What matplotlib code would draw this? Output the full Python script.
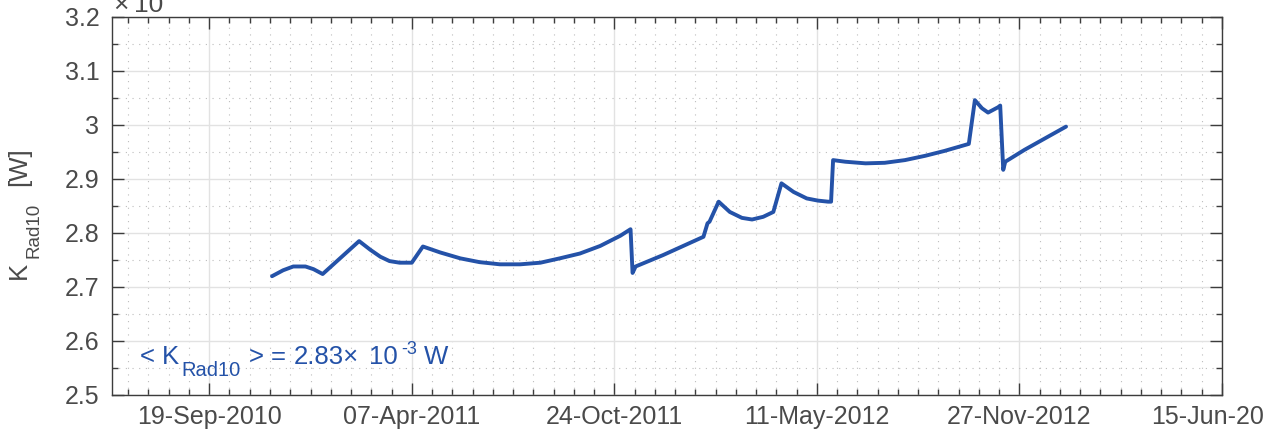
import matplotlib
matplotlib.use('Agg')
import matplotlib.pyplot as plt
import matplotlib.dates as mdates
import matplotlib.transforms as mtransforms
from matplotlib.ticker import MultipleLocator, FixedLocator
import pandas as pd

# ---- data (values in units of 1e-3 W) ----
dates = [
    '2010-11-20', '2010-12-01', '2010-12-11', '2010-12-23', '2010-12-31',
    '2011-01-09', '2011-02-14', '2011-02-25', '2011-03-07', '2011-03-16',
    '2011-03-26', '2011-04-07', '2011-04-18', '2011-05-05', '2011-05-25',
    '2011-06-13', '2011-07-03', '2011-07-23', '2011-08-12', '2011-08-31',
    '2011-09-20', '2011-10-10', '2011-10-30', '2011-11-09', '2011-11-11',
    '2011-11-14', '2011-12-11', '2011-12-31', '2012-01-20', '2012-01-24',
    '2012-01-26', '2012-02-04', '2012-02-15', '2012-02-27', '2012-03-08',
    '2012-03-19', '2012-03-29', '2012-04-06', '2012-04-18', '2012-05-01',
    '2012-05-12', '2012-05-22', '2012-05-25', '2012-05-27', '2012-06-08',
    '2012-06-28', '2012-07-17', '2012-08-06', '2012-08-26', '2012-09-14',
    '2012-10-08', '2012-10-14', '2012-10-21', '2012-10-27', '2012-11-06',
    '2012-11-08', '2012-11-11', '2012-11-13', '2012-12-02', '2012-12-22',
    '2013-01-12',
]
k_rad10 = [
    2.720, 2.731, 2.738, 2.738, 2.733,
    2.724, 2.785, 2.769, 2.756, 2.748,
    2.745, 2.745, 2.775, 2.764, 2.753,
    2.746, 2.742, 2.742, 2.745, 2.753,
    2.762, 2.776, 2.795, 2.807, 2.726,
    2.738, 2.759, 2.776, 2.793, 2.818,
    2.821, 2.858, 2.839, 2.828, 2.825,
    2.830, 2.839, 2.892, 2.876, 2.864,
    2.860, 2.858, 2.858, 2.935, 2.932,
    2.929, 2.930, 2.935, 2.943, 2.952,
    2.965, 3.046, 3.031, 3.023, 3.033,
    3.036, 2.917, 2.932, 2.954, 2.975,
    2.997,
]
mean_k = 2.83
x_major_ticks = ['2010-09-19', '2011-04-07', '2011-10-24',
                 '2012-05-11', '2012-11-27', '2013-06-15']
y_ticks = [2.5, 2.6, 2.7, 2.8, 2.9, 3.0, 3.1, 3.2]
y_tick_labels = ['2.5', '2.6', '2.7', '2.8', '2.9', '3', '3.1', '3.2']
x_limits = ['2010-06-15', '2013-06-15']

# ---- style ----
plt.rcParams['font.family'] = ['Liberation Sans', 'DejaVu Sans']

line_color = '#2452A8'
text_color = '#4a4a4a'
axis_color = '#3c3c3c'

W, H = 1264, 438
fig = plt.figure(figsize=(W / 100, H / 100), dpi=100)
ax = fig.add_axes([112 / W, 1 - 395 / H, 1110 / W, 378 / H])

x = pd.to_datetime(dates)
ax.plot(x, k_rad10, color=line_color, lw=2.8, solid_joinstyle='round',
        solid_capstyle='round', zorder=3)

ax.set_xlim(pd.to_datetime(x_limits[0]), pd.to_datetime(x_limits[1]))
ax.set_ylim(2.5, 3.2)

ax.xaxis.set_major_locator(FixedLocator(mdates.date2num(pd.to_datetime(x_major_ticks))))
ax.xaxis.set_major_formatter(mdates.DateFormatter('%d-%b-%Y'))
minor_x = pd.date_range('2010-07-01', '2013-06-15', freq='20D')
ax.xaxis.set_minor_locator(FixedLocator(mdates.date2num(minor_x)))

ax.set_yticks(y_ticks)
ax.set_yticklabels(y_tick_labels)
ax.yaxis.set_minor_locator(MultipleLocator(0.05))

ax.tick_params(which='both', direction='in', top=True, right=True,
               color=axis_color, width=1.0, labelcolor=text_color,
               labelsize=18)
ax.tick_params(which='major', length=8.5)
ax.tick_params(which='minor', length=4.3)
ax.tick_params(axis='x', pad=7)
ax.tick_params(axis='y', pad=9)

for s in ax.spines.values():
    s.set_color(axis_color)
    s.set_linewidth(1.0)

ax.set_axisbelow(True)
ax.grid(which='major', color='#e2e2e2', lw=1.0, ls='-')
ax.grid(which='minor', color='#bdbdbd', lw=0.8, ls=(0, (1, 5)))

pix = mtransforms.IdentityTransform()


def put(xp, ytop, s, size, color, rot=0):
    """Place text with its left-baseline anchor at pixel (xp, ytop from top)."""
    fig.text(xp, H - ytop, s, transform=pix, fontsize=size, color=color,
             ha='left', va='baseline', rotation=rot, rotation_mode='anchor')


# y-axis label  K_Rad10 [W]  (rotated, reading upward)
put(26, 279, 'K', 18.5, text_color, rot=90)
put(39, 258, 'Rad10', 13.5, text_color, rot=90)
put(26, 186, '[W]', 18.5, text_color, rot=90)

# exponent marker at the top left (cut by the top edge as in the reference)
put(113, 12, '\u00d7', 19, text_color)
put(134, 12, '10', 19, text_color)
put(163, 0, '-3', 12, text_color)

# mean value annotation
put(140, 364, '<', 18.5, line_color)
put(162, 364, 'K', 18.5, line_color)
put(181, 376, 'Rad10', 14.5, line_color)
put(249, 364, '>', 18.5, line_color)
put(271, 364, '=', 18.5, line_color)
put(294, 364, '%.2f\u00d7' % mean_k, 18.5, line_color)
put(369, 364, '10', 18.5, line_color)
put(401, 354, '-3', 13, line_color)
put(424, 364, 'W', 18.5, line_color)

fig.savefig('out.png', dpi=100)
